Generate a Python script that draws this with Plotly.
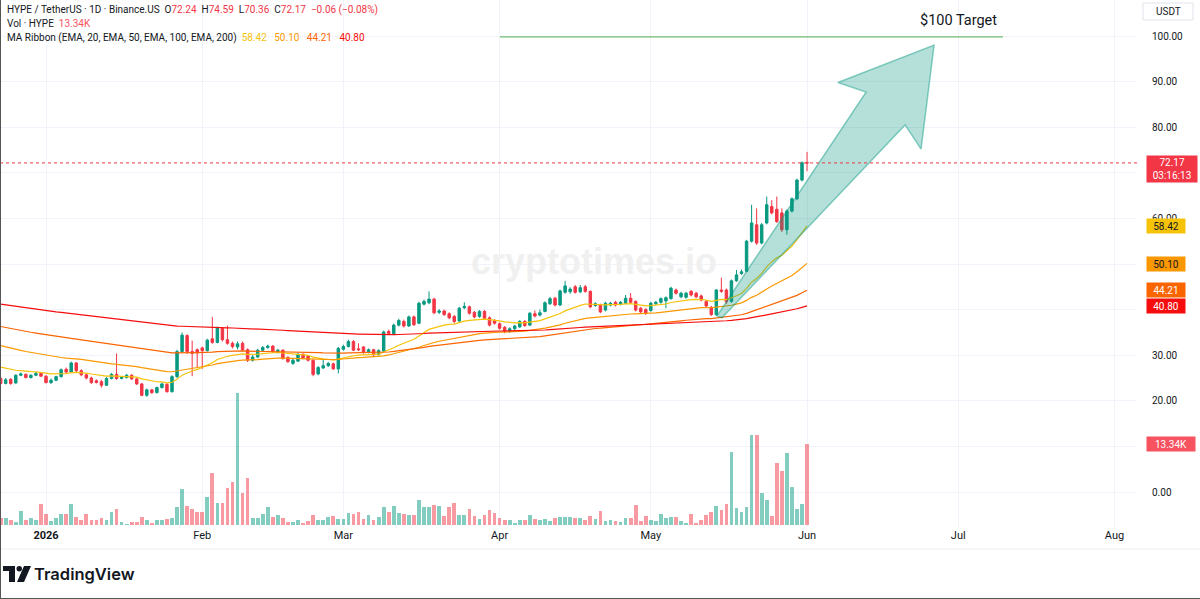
import plotly.graph_objects as go
import pandas as pd

# ---------------- data ----------------
START_DATE = "2025-12-23"

OPEN = [
    24.9, 23.8, 24.7, 23.9, 25.6, 25.8, 25.1, 25.6, 26.0, 25.4,
    24.0, 24.5, 25.3, 26.9, 26.3, 28.3, 26.6, 25.7, 25.0, 24.4,
    24.2, 23.4, 24.9, 25.8, 24.9, 25.1, 25.6, 24.8, 23.7, 21.2,
    22.4, 21.8, 22.9, 23.6, 22.0, 25.3, 30.8, 34.3, 30.8, 31.2,
    31.6, 31.0, 33.6, 32.8, 35.9, 33.4, 32.6, 31.8, 32.6, 31.2,
    28.9, 29.6, 31.1, 31.7, 32.0, 30.8, 31.1, 29.5, 28.2, 28.7,
    30.2, 29.8, 28.9, 25.9, 27.2, 27.7, 28.1, 27.0, 31.3, 31.9,
    33.0, 31.4, 31.8, 30.7, 31.2, 30.2, 30.9, 35.2, 34.7, 36.6,
    37.4, 36.4, 38.4, 37.0, 41.2, 41.5, 42.3, 39.4, 39.7, 39.1,
    38.5, 37.5, 40.4, 40.6, 39.4, 38.5, 39.6, 38.2, 37.6, 36.9,
    36.1, 35.2, 35.8, 36.2, 37.4, 36.6, 39.1, 38.8, 39.6, 41.3,
    42.5, 41.0, 43.8, 43.9, 45.0, 43.9, 45.0, 44.0, 40.9, 41.0,
    39.9, 41.0, 41.6, 41.2, 41.4, 42.5, 41.8, 40.3, 40.0, 39.8,
    41.3, 41.6, 41.9, 42.4, 44.3, 42.8, 42.7, 44.0, 43.6, 43.0,
    41.8, 40.5, 38.9, 44.3, 44.3, 41.8, 46.3, 47.9, 48.4, 55.0,
    58.6, 54.6, 59.0, 62.6, 62.0, 61.2, 57.5, 61.6, 64.3, 68.4,
    72.24,
]
HIGH = [
    25.3, 25.0, 25.0, 25.8, 26.2, 26.0, 25.8, 26.4, 26.2, 25.6,
    24.9, 25.5, 27.1, 27.3, 28.6, 28.5, 26.9, 26.0, 25.3, 24.7,
    24.6, 25.2, 26.1, 30.4, 25.4, 25.9, 25.8, 25.0, 23.9, 22.7,
    22.6, 23.1, 24.0, 23.9, 25.6, 31.2, 35.0, 34.6, 33.2, 31.5,
    31.9, 33.6, 38.4, 36.3, 36.1, 36.5, 33.0, 33.0, 33.0, 31.5,
    30.0, 31.4, 32.0, 32.3, 32.2, 31.4, 31.3, 29.8, 29.2, 30.5,
    30.4, 30.0, 29.1, 27.6, 29.0, 28.5, 28.4, 31.8, 32.3, 33.4,
    33.3, 32.6, 32.0, 31.5, 31.4, 31.3, 35.4, 35.6, 36.9, 38.0,
    37.8, 38.7, 38.7, 41.7, 42.2, 44.0, 42.6, 40.1, 40.0, 39.4,
    38.8, 40.6, 41.6, 40.9, 39.7, 39.9, 39.9, 38.5, 37.9, 37.2,
    36.4, 36.1, 36.7, 37.7, 37.7, 39.5, 39.8, 40.0, 41.8, 42.8,
    42.8, 44.4, 46.3, 44.9, 45.4, 45.4, 45.4, 44.2, 41.6, 41.3,
    41.7, 41.7, 41.9, 41.9, 43.2, 43.6, 42.0, 40.6, 40.3, 41.7,
    41.9, 42.7, 42.9, 45.0, 44.6, 43.9, 43.9, 44.3, 43.9, 43.3,
    42.0, 40.8, 44.5, 47.0, 44.6, 46.6, 48.7, 48.8, 55.3, 63.0,
    62.2, 59.0, 64.8, 64.0, 64.8, 62.2, 62.0, 64.6, 68.7, 72.5,
    74.59,
]
LOW = [
    23.5, 23.6, 23.5, 23.8, 25.4, 24.9, 24.9, 25.4, 25.2, 23.8,
    23.7, 24.3, 25.1, 26.0, 26.1, 26.3, 25.4, 24.7, 23.7, 23.8,
    22.9, 23.3, 24.7, 24.6, 24.7, 24.9, 24.6, 23.5, 21.0, 20.9,
    21.5, 21.6, 22.7, 21.8, 21.8, 25.0, 30.5, 30.3, 25.4, 27.4,
    27.0, 30.8, 32.5, 32.6, 33.0, 32.3, 31.5, 31.3, 30.9, 28.5,
    28.6, 29.4, 30.9, 31.4, 30.5, 30.4, 29.0, 28.3, 27.9, 28.5,
    29.1, 28.6, 25.4, 25.6, 27.0, 27.4, 26.8, 26.0, 31.0, 31.7,
    30.9, 30.9, 30.3, 30.4, 29.8, 29.9, 30.7, 34.4, 34.4, 36.3,
    36.1, 36.2, 36.4, 36.8, 40.9, 41.2, 39.0, 39.0, 38.6, 37.9,
    37.0, 37.3, 40.1, 38.9, 38.1, 38.2, 37.8, 36.3, 36.7, 35.6,
    34.8, 34.9, 35.5, 36.0, 36.2, 36.4, 38.3, 38.5, 39.4, 41.0,
    40.7, 40.8, 43.5, 43.5, 43.5, 43.6, 43.7, 40.3, 40.6, 39.2,
    39.6, 40.7, 40.7, 40.9, 41.2, 41.3, 39.6, 39.2, 38.8, 39.5,
    41.0, 41.3, 40.3, 42.2, 43.3, 42.5, 42.4, 42.9, 42.5, 41.8,
    40.5, 38.6, 38.6, 43.7, 41.2, 41.5, 46.1, 47.6, 48.2, 54.7,
    54.2, 54.3, 58.7, 60.9, 59.0, 57.0, 56.4, 61.3, 64.0, 68.1,
    70.36,
]
CLOSE = [
    23.8, 24.6, 23.8, 25.6, 25.9, 25.1, 25.6, 26.0, 25.4, 24.0,
    24.5, 25.3, 26.8, 26.3, 28.3, 26.6, 25.7, 25.0, 24.0, 24.0,
    23.4, 24.9, 25.8, 24.9, 25.1, 25.6, 24.8, 23.7, 21.2, 22.4,
    21.8, 22.9, 23.7, 22.0, 25.3, 30.8, 34.4, 30.8, 30.4, 30.5,
    31.0, 33.3, 32.8, 35.9, 33.4, 32.6, 31.9, 32.5, 31.2, 28.9,
    29.6, 31.1, 31.7, 32.0, 30.8, 31.1, 29.3, 28.6, 28.9, 30.2,
    29.4, 28.9, 25.8, 27.3, 27.7, 28.2, 27.0, 31.5, 31.9, 33.0,
    31.1, 31.2, 30.6, 31.2, 30.1, 31.0, 35.1, 34.8, 36.6, 37.6,
    36.4, 38.4, 36.7, 41.4, 41.8, 42.3, 39.3, 39.7, 38.9, 38.2,
    37.4, 40.3, 40.7, 39.2, 38.4, 39.6, 38.1, 36.6, 37.0, 35.9,
    35.2, 35.8, 36.4, 37.4, 36.5, 39.2, 38.6, 39.3, 41.5, 42.4,
    41.0, 44.1, 45.2, 44.5, 43.8, 44.8, 44.0, 40.6, 41.3, 39.5,
    41.4, 41.4, 41.0, 41.6, 42.5, 41.6, 39.9, 39.5, 39.2, 41.4,
    41.6, 42.4, 42.6, 44.7, 43.6, 43.6, 43.6, 43.2, 42.8, 42.1,
    40.8, 38.9, 44.3, 44.0, 41.7, 46.3, 47.6, 48.3, 55.0, 59.0,
    54.6, 58.6, 63.0, 61.2, 59.3, 57.5, 61.6, 64.3, 68.4, 72.2,
    72.17,
]
VOLUME_K = [
    1.2, 1.1, 0.9, 0.55, 2.3, 0.9, 1.2, 0.8, 3.4, 1.8,
    0.66, 1.2, 1.8, 1.8, 3.4, 1.4, 0.8, 1.8, 0.8, 0.8,
    1.2, 0.8, 2.1, 2.7, 0.44, 0.16, 0.44, 0.44, 1.3, 0.77,
    0.27, 0.77, 0.77, 0.93, 1.1, 3.0, 5.9, 3.2, 2.6, 2.1,
    2.1, 4.6, 8.5, 3.6, 3.6, 6.1, 7.1, 21.8, 5.3, 7.8,
    1.1, 1.2, 1.8, 2.9, 1.4, 1.6, 1.2, 0.55, 0.55, 0.8,
    0.27, 0.66, 1.6, 0.8, 0.8, 1.4, 1.5, 0.93, 1.0, 1.9,
    1.8, 2.1, 0.93, 1.6, 0.8, 1.3, 3.0, 2.2, 3.1, 2.0,
    1.8, 1.7, 1.6,
    4.2, 2.9, 2.9, 3.3, 3.1, 1.5, 2.9, 3.6, 1.6, 1.6,
    2.6, 1.5, 1.0, 1.6, 2.4, 2.0, 1.2, 0.8, 0.77, 0.27,
    0.77, 0.88, 1.6, 1.0, 0.77, 1.0, 0.6, 1.2, 1.3, 1.3,
    1.3, 1.2, 1.1, 0.8, 1.5, 1.0, 2.3, 0.6, 0.77, 0.6,
    0.5, 1.1, 1.1, 3.3, 0.66, 1.5, 0.77, 0.66, 1.8, 1.2,
    1.4, 1.3, 0.66, 0.33, 1.8, 0.33, 0.88, 1.6, 2.1, 3.1,
    2.5, 3.4, 12.0, 2.8, 2.1, 3.0, 14.8, 14.9, 5.3, 4.2,
    1.5, 10.2, 8.9, 11.8, 6.2, 2.6, 3.4, 13.34,
]

# EMA ribbon: periods, value of each EMA on the first visible bar, colours, legend values
EMA_PERIODS = [20, 50, 100, 200]
EMA_START = [27.4, 32.1, 36.3, 41.2]
EMA_COLORS = ["#f6c309", "#fb9800", "#fb6500", "#f60c0c"]
EMA_LAST = [58.42, 50.10, 44.21, 40.80]
EMA_LABEL_TEXT = ["#131722", "#131722", "#ffffff", "#ffffff"]

PRICE_TICKS = [0, 10, 20, 30, 40, 50, 60, 70, 80, 90, 100]
PRICE_TICKS_COVERED = [10, 40, 50, 70]   # hidden under the price-scale labels
MONTH_TICKS = ["2026-01-01", "2026-02-01", "2026-03-01", "2026-04-01",
               "2026-05-01", "2026-06-01", "2026-07-01", "2026-08-01"]
MONTH_LABELS = ["<b>2026</b>", "Feb", "Mar", "Apr", "May", "Jun", "Jul", "Aug"]

LAST = dict(o=72.24, h=74.59, l=70.36, c=72.17, chg="−0.06 (−0.08%)", timer="03:16:13")
VOL_LAST = "13.34K"

TARGET_PRICE = 99.8
TARGET_DATES = ["2026-04-01 02:00", "2026-07-09 21:00"]
TARGET_LABEL_AT = ("2026-06-30 23:00", 103.3)

ARROW_DATES = ["2026-05-14 03:00", "2026-06-12 17:00", "2026-06-07 03:00", "2026-06-26 05:00",
               "2026-06-23 15:00", "2026-06-20 11:00", "2026-05-15 03:00", "2026-05-14 03:00"]
ARROW_PRICES = [38.6, 87.7, 89.8, 98.0, 75.2, 80.5, 38.2, 38.6]

# ---------------- styling / geometry ----------------
W, H = 1200, 599
PW, PH = 1137, 527            # plot area (px)
X_RANGE = ["2025-12-22 20:57", "2026-08-05 11:14"]
P_RANGE = [-7.675, 107.895]   # price axis
V_RANGE = [-0.33, 86.49]      # volume axis (K)
UP, DOWN = "#089981", "#f23645"
UP_V, DOWN_V = "rgba(8,153,129,0.5)", "rgba(242,54,69,0.5)"
TXT = "#131722"
FONT = "Roboto, 'Liberation Sans', sans-serif"
GRID = "#f0f3fa"


def pxx(x):
    return x / PW


def pxy(y):
    return 1 - y / PH


dates = pd.date_range(START_DATE, periods=len(CLOSE), freq="D")


def ema(values, period, first):
    a = 2.0 / (period + 1)
    out = [first]
    for v in values[1:]:
        out.append(a * v + (1 - a) * out[-1])
    return out


fig = go.Figure()

vol_colors = [UP_V if c >= o else DOWN_V for o, c in zip(OPEN, CLOSE)]
fig.add_trace(go.Bar(x=dates, y=VOLUME_K, marker=dict(color=vol_colors, line=dict(width=0)),
                     width=0.74 * 86400000, yaxis="y", hoverinfo="skip", showlegend=False))

for p, s, col in zip(EMA_PERIODS, EMA_START, EMA_COLORS):
    fig.add_trace(go.Scatter(x=dates, y=ema(CLOSE, p, s), mode="lines",
                             line=dict(color=col, width=1.2), yaxis="y2",
                             hoverinfo="skip", showlegend=False))

fig.add_trace(go.Candlestick(
    x=dates, open=OPEN, high=HIGH, low=LOW, close=CLOSE, yaxis="y2",
    increasing=dict(line=dict(color=UP, width=1), fillcolor=UP),
    decreasing=dict(line=dict(color=DOWN, width=1), fillcolor=DOWN),
    whiskerwidth=0, showlegend=False, hoverinfo="skip"))

# arrow drawing
fig.add_trace(go.Scatter(x=ARROW_DATES, y=ARROW_PRICES, mode="lines", fill="toself",
                         fillcolor="rgba(8,153,129,0.30)",
                         line=dict(color="rgba(8,153,129,0.45)", width=1.5),
                         yaxis="y2", hoverinfo="skip", showlegend=False))
# target line
fig.add_trace(go.Scatter(x=TARGET_DATES, y=[TARGET_PRICE, TARGET_PRICE], mode="lines",
                         line=dict(color="#4caf50", width=1), yaxis="y2",
                         hoverinfo="skip", showlegend=False))

shapes = []
# last price dotted line
shapes.append(dict(type="line", xref="x domain", x0=0, x1=1, yref="y2",
                   y0=LAST["c"], y1=LAST["c"], line=dict(color=DOWN, width=1, dash="dot")))
# footer separator and frame
shapes.append(dict(type="line", xref="paper", yref="paper", x0=0, x1=W / PW,
                   y0=pxy(549), y1=pxy(549), line=dict(color="#eeeeee", width=1)))
shapes.append(dict(type="line", xref="paper", yref="paper", x0=pxx(0.5), x1=pxx(0.5),
                   y0=pxy(0), y1=pxy(H), line=dict(color="#555555", width=1)))
shapes.append(dict(type="line", xref="paper", yref="paper", x0=0, x1=W / PW,
                   y0=pxy(H - 0.5), y1=pxy(H - 0.5), line=dict(color="#555555", width=1)))
# USDT box
shapes.append(dict(type="rect", xref="paper", yref="paper", x0=pxx(1143), x1=pxx(1193),
                   y0=pxy(3), y1=pxy(20), line=dict(color="#e0e3eb", width=1),
                   fillcolor="white"))


# TradingView logo glyph
def path(pts):
    return "M " + " L ".join(f"{pxx(x):.5f},{pxy(y):.5f}" for x, y in pts) + " Z"


shapes.append(dict(type="path", xref="paper", yref="paper",
                   path=path([(3, 566), (15, 566), (15, 582), (9, 582), (9, 571), (3, 571)]),
                   fillcolor="#131722", line=dict(width=0)))
shapes.append(dict(type="circle", xref="paper", yref="paper", x0=pxx(16.5), x1=pxx(22),
                   y0=pxy(571.5), y1=pxy(566), fillcolor="#131722", line=dict(width=0)))
shapes.append(dict(type="path", xref="paper", yref="paper",
                   path=path([(24, 566), (31, 566), (24, 582), (17, 582)]),
                   fillcolor="#131722", line=dict(width=0)))

ann = []
red = DOWN
SP = "&nbsp;&nbsp;"
hdr1 = ("HYPE / TetherUS · 1D · Binance.US&nbsp; "
        f"O<span style='color:{red}'>{LAST['o']:.2f}</span>&nbsp; "
        f"H<span style='color:{red}'>{LAST['h']:.2f}</span>&nbsp; "
        f"L<span style='color:{red}'>{LAST['l']:.2f}</span>&nbsp; "
        f"C<span style='color:{red}'>{LAST['c']:.2f}</span>&nbsp; "
        f"<span style='color:{red}'>{LAST['chg']}</span>")
hdr2 = f"Vol · HYPE&nbsp; <span style='color:#f7525f'>{VOL_LAST}</span>"
hdr3 = ("MA Ribbon (EMA, 20, EMA, 50, EMA, 100, EMA, 200)&nbsp; " +
        (SP + " ").join(f"<span style='color:{c}'>{v:.2f}</span>" for v, c in zip(EMA_LAST, EMA_COLORS)))
for txt, yy in [(hdr1, 10), (hdr2, 24), (hdr3, 38)]:
    ann.append(dict(text=txt, xref="paper", yref="paper", x=pxx(5), y=pxy(yy),
                    xanchor="left", yanchor="middle", showarrow=False,
                    font=dict(family=FONT, size=10, color=TXT)))

ann.append(dict(text="USDT", xref="paper", yref="paper", x=pxx(1168), y=pxy(11.5),
                xanchor="center", yanchor="middle", showarrow=False,
                font=dict(family=FONT, size=10, color=TXT)))

# watermark
ann.append(dict(text="<b>cryptotimes.io</b>", xref="paper", yref="paper", x=pxx(594), y=pxy(262),
                xanchor="center", yanchor="middle", showarrow=False,
                font=dict(family="'Liberation Sans', Arial, sans-serif", size=36, color="#f0f0f0")))

# target label
ann.append(dict(text="$100 Target", xref="x", yref="y2", x=TARGET_LABEL_AT[0], y=TARGET_LABEL_AT[1],
                showarrow=False, font=dict(family=FONT, size=14.5, color=TXT)))

# price-scale labels
LX = pxx(1146)
ann.append(dict(text=f"{LAST['c']:.2f}<br>{LAST['timer']}", xref="paper", yref="y2", x=LX,
                y=LAST["c"], xanchor="left", yanchor="top", yshift=8, showarrow=False,
                bgcolor=DOWN, width=48, height=24, borderpad=1, align="center",
                font=dict(family=FONT, size=10, color="white")))
for v, bg, fc in zip(EMA_LAST, EMA_COLORS, EMA_LABEL_TEXT):
    ann.append(dict(text=f"{v:.2f}", xref="paper", yref="y2", x=LX, y=v,
                    xanchor="left", yanchor="middle", showarrow=False,
                    bgcolor=bg, width=36, height=12, borderpad=1, align="center",
                    font=dict(family=FONT, size=10, color=fc)))
ann.append(dict(text=VOL_LAST, xref="paper", yref="y", x=LX, y=VOLUME_K[-1],
                xanchor="left", yanchor="middle", showarrow=False,
                bgcolor="#f7525f", width=46, height=12, borderpad=1, align="center",
                font=dict(family=FONT, size=10, color="white")))

# TradingView wordmark
ann.append(dict(text="TradingView", xref="paper", yref="paper", x=pxx(32), y=pxy(574),
                xanchor="left", yanchor="middle", showarrow=False,
                font=dict(family="Inter, Roboto, sans-serif", size=16.5, color=TXT, weight=600)))

fig.update_layout(
    width=W, height=H, autosize=False,
    margin=dict(l=0, r=W - PW, t=0, b=H - PH, pad=0),
    paper_bgcolor="white", plot_bgcolor="white",
    showlegend=False, bargap=0,
    xaxis=dict(type="date", range=X_RANGE, tickvals=MONTH_TICKS, ticktext=MONTH_LABELS,
               showgrid=True, gridcolor=GRID, gridwidth=1, zeroline=False, showline=False,
               ticks="", tickfont=dict(family=FONT, size=11, color=TXT),
               rangeslider=dict(visible=False), fixedrange=True),
    yaxis=dict(range=V_RANGE, visible=False, showgrid=False, zeroline=False, fixedrange=True),
    yaxis2=dict(range=P_RANGE, overlaying="y", side="right", tickvals=PRICE_TICKS,
                ticktext=["" if v in PRICE_TICKS_COVERED else f"{v:.2f}" for v in PRICE_TICKS],
                showgrid=True, gridcolor=GRID,
                zeroline=False, showline=False, ticks="", ticklabelstandoff=14,
                tickfont=dict(family=FONT, size=10, color=TXT), fixedrange=True),
    shapes=shapes, annotations=ann,
)

fig.write_html("out.html")
